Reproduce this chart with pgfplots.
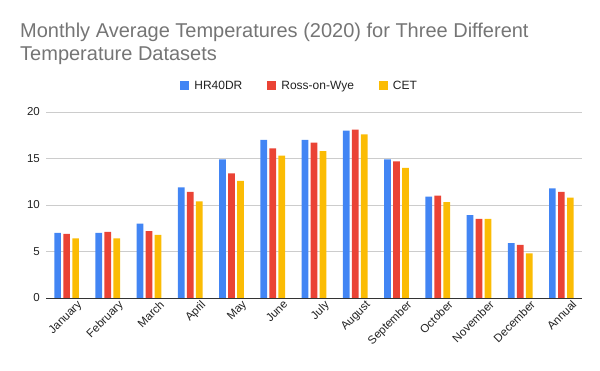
\documentclass[border=0pt]{standalone}
\usepackage{pgfplots}
\pgfplotsset{compat=1.18}
\usepackage{fontspec}
\setmainfont{Liberation Sans}
\definecolor{gblue}{HTML}{4285F4}
\definecolor{gred}{HTML}{EA4335}
\definecolor{gyellow}{HTML}{FBBC04}
\definecolor{titlegray}{HTML}{757575}
\definecolor{labgray}{HTML}{222222}
\begin{document}
\begin{tikzpicture}
\useasboundingbox (0,0) rectangle (600pt,371pt);
\node[anchor=base west, font=\fontsize{20}{24}\selectfont, text=titlegray, inner sep=0pt] at (20pt,333pt) {Monthly Average Temperatures (2020) for Three Different};
\node[anchor=base west, font=\fontsize{20}{24}\selectfont, text=titlegray, inner sep=0pt] at (20pt,310pt) {Temperature Datasets};
\begin{axis}[
  at={(46pt,73pt)}, anchor=south west,
  scale only axis, width=536pt, height=186pt,
  ybar=2.3pt, bar width=6.7pt,
  xmin=-0.5, xmax=12.5, ymin=0, ymax=20,
  axis line style={draw=none},
  xtick={0,...,12}, major x tick style={draw=none},
  xticklabels={January,February,March,April,May,June,July,August,September,October,November,December,Annual},
  xticklabel style={rotate=45, anchor=north east, font=\fontsize{11.5}{13}\selectfont, text=labgray, inner sep=0pt, xshift=9pt, yshift=-5pt},
  ytick={5,10,15,20}, major y tick style={draw=none},
  extra y ticks={0}, extra y tick labels={0},
  extra y tick style={grid style={draw=black!80, line width=0.9pt}, major tick style={draw=none}},
  ymajorgrids, grid style={draw=black!20, line width=0.6pt},
  yticklabel style={font=\fontsize{11.5}{13}\selectfont, text=labgray, inner sep=0pt, xshift=-6pt},
  /pgf/number format/assume math mode=true,
  legend columns=3,
  legend style={at={(0.476,1.14)}, anchor=center, draw=none, font=\fontsize{12}{14}\selectfont, text=labgray, column sep=0pt, nodes={inner xsep=5pt},
    /tikz/every even column/.append style={column sep=20pt}},
  legend image code/.code={\fill[#1] (0pt,-4.5pt) rectangle (9pt,4.5pt);},
]
\addplot[fill=gblue, draw=none] coordinates {(0,7.0) (1,7.0) (2,8.0) (3,11.9) (4,14.9) (5,17.0) (6,17.0) (7,18.0) (8,14.9) (9,10.9) (10,8.9) (11,5.9) (12,11.8)};
\addplot[fill=gred, draw=none] coordinates {(0,6.9) (1,7.1) (2,7.2) (3,11.4) (4,13.4) (5,16.1) (6,16.7) (7,18.1) (8,14.7) (9,11.0) (10,8.5) (11,5.7) (12,11.4)};
\addplot[fill=gyellow, draw=none] coordinates {(0,6.4) (1,6.4) (2,6.8) (3,10.4) (4,12.6) (5,15.3) (6,15.8) (7,17.6) (8,14.0) (9,10.3) (10,8.5) (11,4.8) (12,10.8)};
\legend{HR40DR, Ross-on-Wye, CET}
\end{axis}
\end{tikzpicture}
\end{document}
